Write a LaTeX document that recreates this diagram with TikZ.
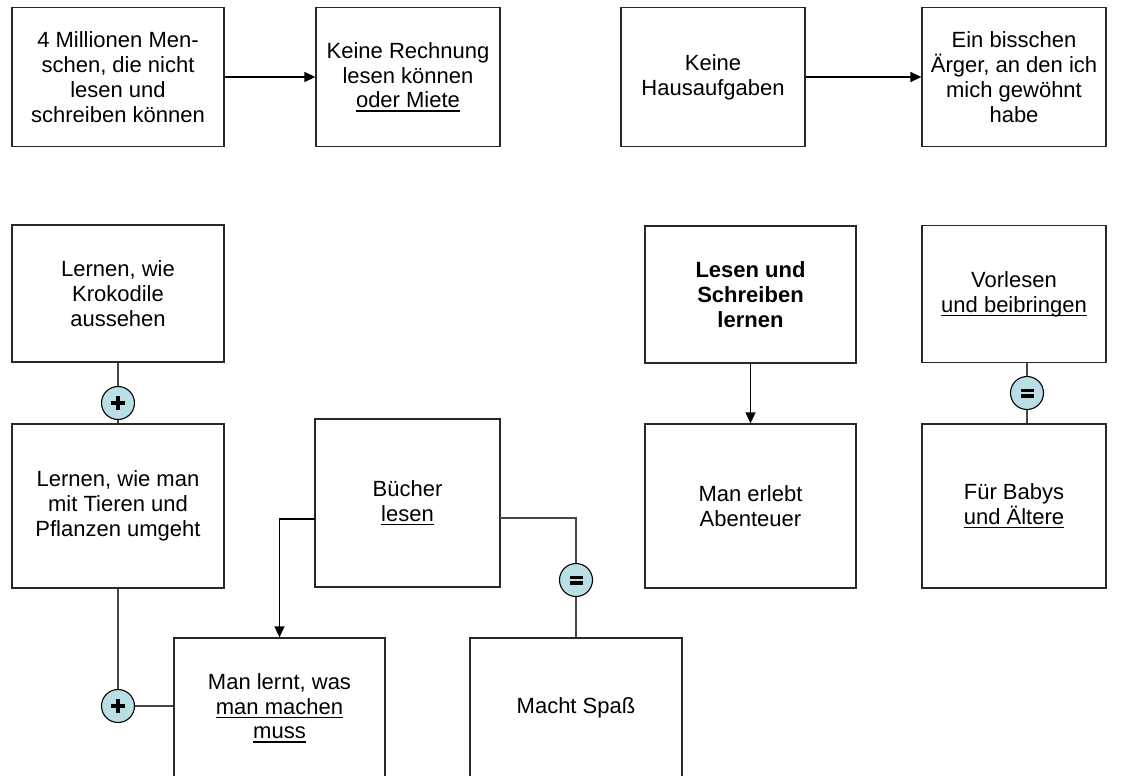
\documentclass[tikz,border=0pt]{standalone}
\usepackage{fontspec}
\setmainfont{Liberation Sans}
\usetikzlibrary{arrows.meta}
\newsavebox\myulbox
\newcommand\myul[1]{\sbox\myulbox{#1}\rlap{\rule[-3.8pt]{\wd\myulbox}{1.2pt}}\usebox\myulbox}
\definecolor{circfill}{RGB}{185,223,228}
\definecolor{boxline}{RGB}{40,40,40}
\definecolor{conline}{RGB}{70,70,70}
\tikzset{
  box/.style={draw=boxline, line width=1.3pt, fill=white, align=center,
    font=\fontsize{22}{24.8}\selectfont, inner sep=0pt},
  sym/.style={circle, draw=black, line width=1.1pt, fill=circfill,
    minimum size=33pt, inner sep=0pt},
  con/.style={draw=conline, line width=1.3pt},
  arr/.style={draw=black, line width=1.3pt, -{Triangle[length=11pt,width=10pt]}},
}
\begin{document}
\begin{tikzpicture}[x=1pt,y=-1pt]
\useasboundingbox (0,0) rectangle (1135,776);
% top row
\node[box, minimum width=212pt, minimum height=139pt] (a) at (118,77)
  {4 Millionen Men-\\schen, die nicht\\lesen und\\schreiben können};
\node[box, minimum width=184pt, minimum height=139pt] (b) at (408,77)
  {Keine Rechnung\\lesen können\\\myul{oder Miete}};
\node[box, minimum width=184pt, minimum height=139pt] (c) at (713,77)
  {Keine\\Hausaufgaben};
\node[box, minimum width=184pt, minimum height=139pt] (d) at (1014,77)
  {Ein bisschen\\Ärger, an den ich\\mich gewöhnt\\habe};
% left column
\node[box, minimum width=212pt, minimum height=137pt] (e) at (118,293.5)
  {Lernen, wie\\Krokodile\\aussehen};
\node[box, minimum width=212pt, minimum height=164pt] (f) at (118,506)
  {Lernen, wie man\\mit Tieren und\\Pflanzen umgeht};
\node[box, minimum width=185pt, minimum height=168pt] (g) at (407.5,503)
  {Bücher\\\myul{lesen}};
\node[box, minimum width=211pt, minimum height=140pt] (h) at (279.5,708)
  {Man lernt, was\\\myul{man machen}\\\myul{muss}};
\node[box, minimum width=212pt, minimum height=140pt] (i) at (576,708)
  {Macht Spaß};
% right part
\node[box, minimum width=211pt, minimum height=137pt, font=\fontsize{22}{24.8}\selectfont\bfseries] (j) at (750.5,294.5)
  {Lesen und\\Schreiben\\lernen};
\node[box, minimum width=211pt, minimum height=164pt] (k) at (750.5,506)
  {Man erlebt\\Abenteuer};
\node[box, minimum width=184pt, minimum height=137pt] (l) at (1014,294)
  {Vorlesen\\\myul{und beibringen}};
\node[box, minimum width=184pt, minimum height=164pt] (m) at (1014,506)
  {Für Babys\\\myul{und Ältere}};
% symbols
\node[sym] (p1) at (118,403) {};
\node[sym] (p2) at (118,706) {};
\node[sym] (q1) at (576,580) {};
\node[sym] (q2) at (1027,393) {};
\foreach \s in {p1,p2}{
  \fill[black] ([xshift=-7pt,yshift=-1.8pt]\s.center) rectangle ([xshift=7pt,yshift=1.8pt]\s.center);
  \fill[black] ([xshift=-1.8pt,yshift=-7pt]\s.center) rectangle ([xshift=1.8pt,yshift=7pt]\s.center);
}
\foreach \s in {q1,q2}{
  \fill[black] ([xshift=-6.5pt,yshift=-4.5pt]\s.center) rectangle ([xshift=6.5pt,yshift=-1.2pt]\s.center);
  \fill[black] ([xshift=-6.5pt,yshift=1.2pt]\s.center) rectangle ([xshift=6.5pt,yshift=4.5pt]\s.center);
}
% connectors
\draw[arr] (a.east) -- (b.west);
\draw[arr] (c.east) -- (d.west);
\draw[con] (e.south) -- (p1.north);
\draw[con] (p1.south) -- (f.north);
\draw[con] (f.south) -- (p2.north);
\draw[con] (p2.east) -- (h.west |- p2);
\coordinate (gl) at (315,519);
\coordinate (gr) at (500,518);
\draw[arr] (gl) -| (h.north);
\draw[con] (gr) -| (q1.north);
\draw[con] (q1.south) -- (i.north);
\draw[arr] (j.south) -- (k.north);
\draw[con] (l.south -| q2) -- (q2.north);
\draw[con] (q2.south) -- (m.north -| q2);
\end{tikzpicture}
\end{document}
